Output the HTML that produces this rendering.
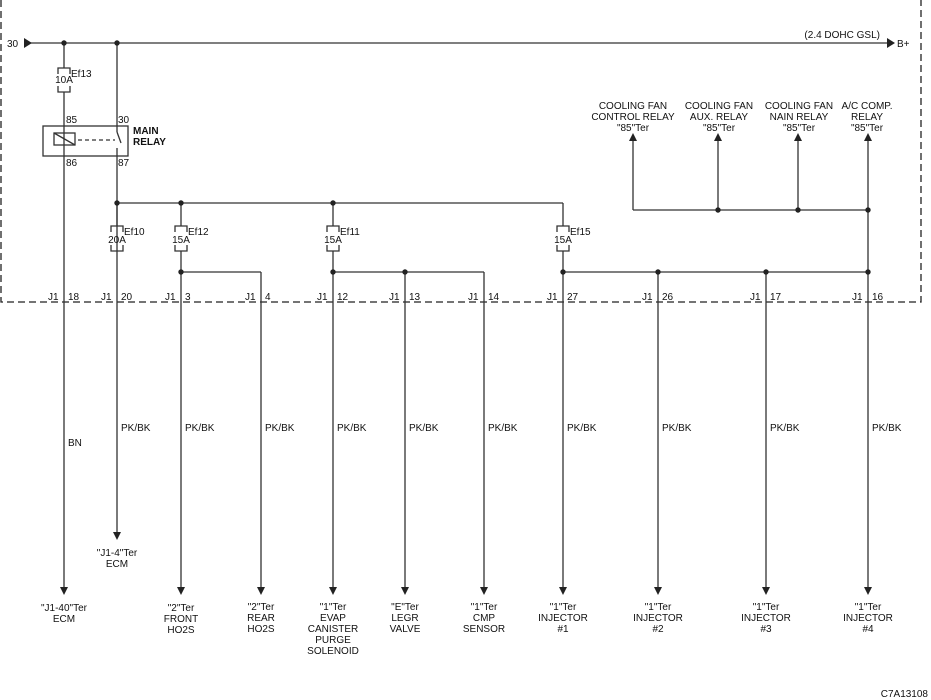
<!DOCTYPE html>
<html><head><meta charset="utf-8"><style>
html,body{margin:0;padding:0;background:#fff}
svg{display:block}
text{font-family:"Liberation Sans",Arial,sans-serif;font-size:10px;fill:#111}
</style></head><body>
<svg width="931" height="700" viewBox="0 0 931 700" xmlns="http://www.w3.org/2000/svg">
<defs>
<marker id="ad" markerWidth="8" markerHeight="8" refX="4" refY="7" orient="0" markerUnits="userSpaceOnUse"><path d="M0,0 L8,0 L4,8 z" fill="#222"/></marker>
<marker id="au" markerWidth="8" markerHeight="8" refX="4" refY="1" orient="0" markerUnits="userSpaceOnUse"><path d="M0,8 L8,8 L4,0 z" fill="#222"/></marker>
</defs>
<g stroke="#333" stroke-width="1.3" fill="none">
<path d="M1,0 V302 H921 V0" stroke-dasharray="7,4" stroke="#222"/>
<!-- top line -->
<line x1="24" y1="43" x2="890" y2="43"/>
<path d="M24,38 L32,43 L24,48 z" fill="#222" stroke="none"/>
<path d="M887,38 L895,43 L887,48 z" fill="#222" stroke="none"/>
<!-- x=64 -->
<line x1="64" y1="43" x2="64" y2="68"/>
<path d="M58,74 V68 H70 V74 M58,86 V92 H70 V86"/>
<line x1="64" y1="92" x2="64" y2="588"/>
<!-- x=117 -->
<line x1="117" y1="43" x2="117" y2="132"/>
<line x1="117" y1="132" x2="121" y2="143"/>
<line x1="117" y1="148" x2="117" y2="533"/>
<rect x="43" y="126" width="85" height="30"/>
<rect x="54" y="133" width="21" height="12"/>
<line x1="54" y1="133" x2="75" y2="145"/>
<line x1="78" y1="140" x2="115" y2="140" stroke-dasharray="4,3"/>
<!-- bus -->
<line x1="117" y1="203" x2="563" y2="203"/>
<line x1="181" y1="203" x2="181" y2="226"/>
<line x1="333" y1="203" x2="333" y2="226"/>
<line x1="563" y1="203" x2="563" y2="226"/>
<line x1="117" y1="203" x2="117" y2="226"/>
<path d="M111,232 V226 H123 V232 M111,245 V251 H123 V245"/>
<path d="M175,232 V226 H187 V232 M175,245 V251 H187 V245"/>
<path d="M327,232 V226 H339 V232 M327,245 V251 H339 V245"/>
<path d="M557,232 V226 H569 V232 M557,245 V251 H569 V245"/>
<line x1="181" y1="251" x2="181" y2="588"/>
<line x1="333" y1="251" x2="333" y2="588"/>
<line x1="563" y1="251" x2="563" y2="588"/>
<line x1="181" y1="272" x2="261" y2="272"/>
<line x1="261" y1="272" x2="261" y2="588"/>
<line x1="333" y1="272" x2="484" y2="272"/>
<line x1="405" y1="272" x2="405" y2="588"/>
<line x1="484" y1="272" x2="484" y2="588"/>
<line x1="563" y1="272" x2="868" y2="272"/>
<line x1="658" y1="272" x2="658" y2="588"/>
<line x1="766" y1="272" x2="766" y2="588"/>
<line x1="868" y1="140" x2="868" y2="588"/>
<!-- cooling -->
<line x1="633" y1="140" x2="633" y2="210"/>
<line x1="718" y1="140" x2="718" y2="210"/>
<line x1="798" y1="140" x2="798" y2="210"/>
<line x1="633" y1="210" x2="868" y2="210"/>
</g>
<g fill="#222">
<path d="M60,587 h8 l-4,8z"/><path d="M113,532 h8 l-4,8z"/>
<path d="M177,587 h8 l-4,8z"/><path d="M257,587 h8 l-4,8z"/><path d="M329,587 h8 l-4,8z"/>
<path d="M401,587 h8 l-4,8z"/><path d="M480,587 h8 l-4,8z"/><path d="M559,587 h8 l-4,8z"/>
<path d="M654,587 h8 l-4,8z"/><path d="M762,587 h8 l-4,8z"/><path d="M864,587 h8 l-4,8z"/>
<path d="M629,141 h8 l-4,-8z"/><path d="M714,141 h8 l-4,-8z"/><path d="M794,141 h8 l-4,-8z"/><path d="M864,141 h8 l-4,-8z"/>
<circle cx="64" cy="43" r="2.7"/><circle cx="117" cy="43" r="2.7"/>
<circle cx="117" cy="203" r="2.7"/><circle cx="181" cy="203" r="2.7"/><circle cx="333" cy="203" r="2.7"/>
<circle cx="181" cy="272" r="2.7"/><circle cx="333" cy="272" r="2.7"/><circle cx="405" cy="272" r="2.7"/>
<circle cx="563" cy="272" r="2.7"/><circle cx="658" cy="272" r="2.7"/><circle cx="766" cy="272" r="2.7"/><circle cx="868" cy="272" r="2.7"/>
<circle cx="718" cy="210" r="2.7"/><circle cx="798" cy="210" r="2.7"/><circle cx="868" cy="210" r="2.7"/>
</g>
<text x="7" y="47">30</text>
<text x="897" y="47">B+</text>
<text x="880" y="38" text-anchor="end">(2.4 DOHC GSL)</text>
<text x="71" y="77">Ef13</text><text x="64" y="83" text-anchor="middle">10A</text>
<text x="66" y="123">85</text><text x="118" y="123">30</text>
<text x="66" y="166">86</text><text x="118" y="166">87</text>
<text x="133" y="134" font-weight="bold">MAIN</text><text x="133" y="145" font-weight="bold">RELAY</text>
<text x="124" y="235">Ef10</text><text x="117" y="243" text-anchor="middle">20A</text>
<text x="188" y="235">Ef12</text><text x="181" y="243" text-anchor="middle">15A</text>
<text x="340" y="235">Ef11</text><text x="333" y="243" text-anchor="middle">15A</text>
<text x="570" y="235">Ef15</text><text x="563" y="243" text-anchor="middle">15A</text>
<g text-anchor="middle">
<text x="633" y="109">COOLING FAN</text><text x="633" y="120">CONTROL RELAY</text><text x="633" y="131">"85"Ter</text>
<text x="719" y="109">COOLING FAN</text><text x="719" y="120">AUX. RELAY</text><text x="719" y="131">"85"Ter</text>
<text x="799" y="109">COOLING FAN</text><text x="799" y="120">NAIN RELAY</text><text x="799" y="131">"85"Ter</text>
<text x="867" y="109">A/C COMP.</text><text x="867" y="120">RELAY</text><text x="867" y="131">"85"Ter</text>
</g>
<g>
<text x="48" y="300">J1</text><text x="68" y="300">18</text>
<text x="101" y="300">J1</text><text x="121" y="300">20</text>
<text x="165" y="300">J1</text><text x="185" y="300">3</text>
<text x="245" y="300">J1</text><text x="265" y="300">4</text>
<text x="317" y="300">J1</text><text x="337" y="300">12</text>
<text x="389" y="300">J1</text><text x="409" y="300">13</text>
<text x="468" y="300">J1</text><text x="488" y="300">14</text>
<text x="547" y="300">J1</text><text x="567" y="300">27</text>
<text x="642" y="300">J1</text><text x="662" y="300">26</text>
<text x="750" y="300">J1</text><text x="770" y="300">17</text>
<text x="852" y="300">J1</text><text x="872" y="300">16</text>
</g>
<text x="68" y="446">BN</text>
<text x="121" y="431">PK/BK</text><text x="185" y="431">PK/BK</text><text x="265" y="431">PK/BK</text>
<text x="337" y="431">PK/BK</text><text x="409" y="431">PK/BK</text><text x="488" y="431">PK/BK</text>
<text x="567" y="431">PK/BK</text><text x="662" y="431">PK/BK</text><text x="770" y="431">PK/BK</text><text x="872" y="431">PK/BK</text>
<g text-anchor="middle">
<text x="117" y="556">"J1-4"Ter</text><text x="117" y="567">ECM</text>
<text x="64" y="611">"J1-40"Ter</text><text x="64" y="622">ECM</text>
<text x="181" y="611">"2"Ter</text><text x="181" y="622">FRONT</text><text x="181" y="633">HO2S</text>
<text x="261" y="610">"2"Ter</text><text x="261" y="621">REAR</text><text x="261" y="632">HO2S</text>
<text x="333" y="610">"1"Ter</text><text x="333" y="621">EVAP</text><text x="333" y="632">CANISTER</text><text x="333" y="643">PURGE</text><text x="333" y="654">SOLENOID</text>
<text x="405" y="610">"E"Ter</text><text x="405" y="621">LEGR</text><text x="405" y="632">VALVE</text>
<text x="484" y="610">"1"Ter</text><text x="484" y="621">CMP</text><text x="484" y="632">SENSOR</text>
<text x="563" y="610">"1"Ter</text><text x="563" y="621">INJECTOR</text><text x="563" y="632">#1</text>
<text x="658" y="610">"1"Ter</text><text x="658" y="621">INJECTOR</text><text x="658" y="632">#2</text>
<text x="766" y="610">"1"Ter</text><text x="766" y="621">INJECTOR</text><text x="766" y="632">#3</text>
<text x="868" y="610">"1"Ter</text><text x="868" y="621">INJECTOR</text><text x="868" y="632">#4</text>
</g>
<text x="928" y="697" text-anchor="end" font-size="9">C7A13108</text>
</svg>
</body></html>
